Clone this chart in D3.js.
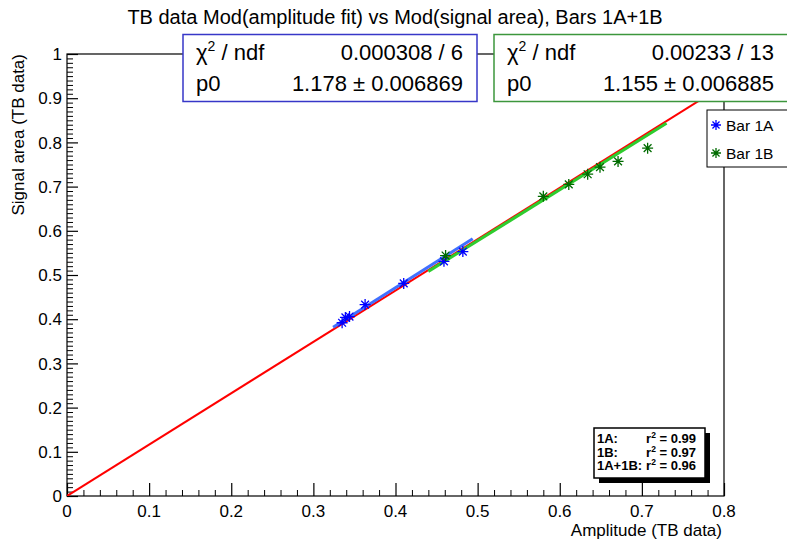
<!DOCTYPE html>
<html>
<head>
<meta charset="utf-8">
<script src="https://cdn.jsdelivr.net/npm/d3@7"></script>
<style>
  html, body { margin: 0; padding: 0; background: #fff; }
  svg { display: block; font-family: "Liberation Sans", Arial, Helvetica, sans-serif; }
</style>
</head>
<body>
<svg id="chart" width="787" height="540"></svg>
<script>
// Bar 1A and Bar 1B measurements: amplitude (x) vs signal area (y)
const bar1AX = [0.335, 0.339, 0.344, 0.363, 0.410, 0.459, 0.482];
const bar1AY = [0.392, 0.404, 0.406, 0.433, 0.481, 0.531, 0.553];
const bar1BX = [0.461, 0.580, 0.611, 0.634, 0.649, 0.671, 0.707];
const bar1BY = [0.544, 0.678, 0.705, 0.728, 0.744, 0.757, 0.787];

// Proportional fits y = p0 * x and their ranges
const fitSlopes = [1.178, 1.155, 1.162];
const fitRanges = [[0.324, 0.494], [0.44, 0.73], [0, 0.8]];
const fitColors = ["#4070ff", "#2ecc2e", "#ff0000"];
const fitWidths = [3, 3, 2];

// Axis ticks
const xTicks = [0, 0.1, 0.2, 0.3, 0.4, 0.5, 0.6, 0.7, 0.8];
const yTicks = [0, 0.1, 0.2, 0.3, 0.4, 0.5, 0.6, 0.7, 0.8, 0.9, 1];

// Fit statistics boxes
const statLabels = ["\u03C7", "p0"];
const statBlue = ["0.000308 / 6", "1.178 \u00B1 0.006869"];
const statGreen = ["0.00233 / 13", "1.155 \u00B1 0.006885"];

// Correlation summary
const corrNames = ["1A:", "1B:", "1A+1B:"];
const corrR2 = [0.99, 0.97, 0.96];

const legendNames = ["Bar 1A", "Bar 1B"];
const markerColors = ["#0000ff", "#006b00"];

const svg = d3.select("#chart");
const L = 67, R = 724, T = 54, B = 496;

const x = d3.scaleLinear().domain([0, 0.8]).range([L, R]);
const y = d3.scaleLinear().domain([0, 1]).range([B, T]);

// Title
svg.append("text").attr("x", 395).attr("y", 24).attr("text-anchor", "middle")
  .attr("font-size", 20).text("TB data Mod(amplitude fit) vs Mod(signal area), Bars 1A+1B");

// Frame
svg.append("rect").attr("x", L).attr("y", T).attr("width", R - L).attr("height", B - T)
  .attr("fill", "none").attr("stroke", "#000").attr("stroke-width", 1.2);

// Bottom axis: ticks point into the frame
svg.append("g").attr("transform", `translate(0,${B})`)
  .call(d3.axisTop(x).tickValues(xTicks).tickSize(13).tickFormat(""))
  .call(g => g.select(".domain").remove())
  .selectAll("line").attr("stroke", "#000").attr("stroke-width", 1.2);
const xMinor = d3.range(0, 0.8001, 0.02).filter(v => Math.abs(v * 10 - Math.round(v * 10)) > 1e-6);
svg.append("g").attr("transform", `translate(0,${B})`)
  .call(d3.axisTop(x).tickValues(xMinor).tickSize(6).tickFormat(""))
  .call(g => g.select(".domain").remove())
  .selectAll("line").attr("stroke", "#000").attr("stroke-width", 1);
svg.append("g").selectAll("text").data(xTicks).join("text")
  .attr("x", d => x(d)).attr("y", 517).attr("text-anchor", "middle")
  .attr("font-size", 17).text(d => d3.format("")(d));

// Left axis
svg.append("g").attr("transform", `translate(${L},0)`)
  .call(d3.axisRight(y).tickValues(yTicks).tickSize(11).tickFormat(""))
  .call(g => g.select(".domain").remove())
  .selectAll("line").attr("stroke", "#000").attr("stroke-width", 1.2);
const yMinor = d3.range(0, 1.0001, 0.01).filter(v => Math.abs(v * 10 - Math.round(v * 10)) > 1e-6);
svg.append("g").attr("transform", `translate(${L},0)`)
  .call(d3.axisRight(y).tickValues(yMinor).tickSize(6).tickFormat(""))
  .call(g => g.select(".domain").remove())
  .selectAll("line").attr("stroke", "#000").attr("stroke-width", 1);
svg.append("g").selectAll("text").data(yTicks).join("text")
  .attr("x", 62).attr("y", d => y(d)).attr("dy", "0.36em").attr("text-anchor", "end")
  .attr("font-size", 17).text(d => d3.format("")(d));

// Axis titles
svg.append("text").attr("x", 722).attr("y", 536).attr("text-anchor", "end")
  .attr("font-size", 17).text("Amplitude (TB data)");
svg.append("text").attr("transform", "translate(24,54) rotate(-90)").attr("text-anchor", "end")
  .attr("font-size", 17).text("Signal area (TB data)");

// Fit lines, clipped to the frame
svg.append("clipPath").attr("id", "frameClip").append("rect")
  .attr("x", L).attr("y", T).attr("width", R - L).attr("height", B - T);
const line = d3.line().x(d => x(d[0])).y(d => y(d[1]));
const fitOrder = [2, 0, 1];
svg.append("g").attr("clip-path", "url(#frameClip)").selectAll("path").data(fitOrder).join("path")
  .attr("d", i => line(fitRanges[i].map(v => [v, fitSlopes[i] * v])))
  .attr("fill", "none").attr("stroke", i => fitColors[i]).attr("stroke-width", i => fitWidths[i]);

// Asterisk marker (8 arms)
function star(cx, cy, r) {
  const d = r * Math.SQRT1_2;
  return `M${cx - r},${cy}L${cx + r},${cy}M${cx},${cy - r}L${cx},${cy + r}` +
         `M${cx - d},${cy - d}L${cx + d},${cy + d}M${cx - d},${cy + d}L${cx + d},${cy - d}`;
}
const series = [
  { xs: bar1AX, ys: bar1AY, color: markerColors[0] },
  { xs: bar1BX, ys: bar1BY, color: markerColors[1] }
];
series.forEach(s => {
  svg.append("g").selectAll("path").data(s.xs.map((v, i) => [v, s.ys[i]])).join("path")
    .attr("d", d => star(x(d[0]), y(d[1]), 5.5))
    .attr("stroke", s.color).attr("stroke-width", 1.3).attr("fill", "none");
});

// Stats boxes
function statBox(x0, x1, color, values) {
  const g = svg.append("g");
  g.append("rect").attr("x", x0).attr("y", 34.5).attr("width", x1 - x0).attr("height", 67)
    .attr("fill", "#fff").attr("stroke", color).attr("stroke-width", 1.5);
  [60, 91].forEach((by, i) => {
    const t = g.append("text").attr("x", x0 + 13).attr("y", by).attr("font-size", 22);
    if (i === 0) {
      t.append("tspan").text(statLabels[0]);
      t.append("tspan").attr("dy", -9).attr("font-size", 14).text("2");
      t.append("tspan").attr("dy", 9).text(" / ndf");
    } else {
      t.text(statLabels[1]);
    }
    g.append("text").attr("x", x1 - 14).attr("y", by).attr("text-anchor", "end")
      .attr("font-size", 22).text(values[i]);
  });
}
statBox(183, 477, "#3737c8", statBlue);
statBox(494, 788, "#3c963c", statGreen);

// Legend
const lg = svg.append("g");
lg.append("rect").attr("x", 707).attr("y", 110).attr("width", 90).attr("height", 57)
  .attr("fill", "#fff").attr("stroke", "#000").attr("stroke-width", 1);
legendNames.forEach((name, i) => {
  const cy = 125 + i * 28;
  lg.append("path").attr("d", star(716, cy, 5)).attr("stroke", markerColors[i])
    .attr("stroke-width", 1.3).attr("fill", "none");
  lg.append("text").attr("x", 726).attr("y", cy + 5.5).attr("font-size", 15.5).text(name);
});

// Correlation box with shadow
const cg = svg.append("g");
cg.append("rect").attr("x", 599).attr("y", 433).attr("width", 111).attr("height", 50).attr("fill", "#000");
cg.append("rect").attr("x", 594).attr("y", 428).attr("width", 111).attr("height", 50)
  .attr("fill", "#fff").attr("stroke", "#000").attr("stroke-width", 1.5);
corrNames.forEach((n, i) => {
  const by = 443 + i * 13.5;
  cg.append("text").attr("x", 597).attr("y", by).attr("font-size", 13).attr("font-weight", "bold").text(n);
  const t = cg.append("text").attr("x", 696).attr("y", by).attr("text-anchor", "end")
    .attr("font-size", 13).attr("font-weight", "bold");
  t.append("tspan").text("r");
  t.append("tspan").attr("dy", -5).attr("font-size", 8.5).text("2");
  t.append("tspan").attr("dy", 5).text(" = " + d3.format(".2f")(corrR2[i]));
});
</script>
</body>
</html>
